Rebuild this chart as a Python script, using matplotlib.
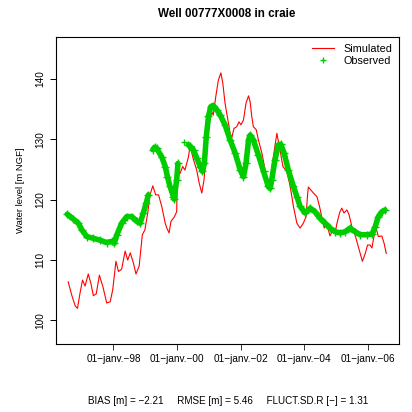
import matplotlib
matplotlib.use("Agg")
import matplotlib.pyplot as plt
from matplotlib.lines import Line2D
import numpy as np

plt.rcParams['font.family'] = ['Liberation Sans', 'DejaVu Sans']

# simulated water level (decimal year, m NGF)
sim_t = [1996.58, 1996.69, 1996.80, 1996.87, 1996.95, 1997.03, 1997.11, 1997.21, 1997.29,
         1997.37, 1997.46, 1997.56, 1997.67, 1997.79, 1997.90, 1997.98, 1998.08, 1998.16,
         1998.26, 1998.37, 1998.45, 1998.53, 1998.63, 1998.71, 1998.81, 1998.91, 1998.99,
         1999.08, 1999.15, 1999.24, 1999.33, 1999.42, 1999.52, 1999.63, 1999.68, 1999.75,
         1999.81, 1999.92, 1999.99, 2000.01, 2000.10, 2000.18, 2000.25, 2000.36, 2000.41,
         2000.52, 2000.62, 2000.70, 2000.78, 2000.85, 2000.94, 2001.02, 2001.09, 2001.14,
         2001.22, 2001.30, 2001.38, 2001.44, 2001.51, 2001.60, 2001.67, 2001.72, 2001.79,
         2001.88, 2001.95, 2002.01, 2002.09, 2002.17, 2002.25, 2002.30, 2002.35, 2002.40,
         2002.49, 2002.56, 2002.67, 2002.75, 2002.82, 2002.87, 2002.93, 2003.03, 2003.14,
         2003.24, 2003.33, 2003.45, 2003.56, 2003.66, 2003.77, 2003.87, 2003.97, 2004.06,
         2004.10, 2004.13, 2004.21, 2004.29, 2004.40, 2004.48, 2004.55, 2004.63, 2004.69,
         2004.76, 2004.81, 2004.90, 2004.97, 2005.03, 2005.11, 2005.18, 2005.25, 2005.34,
         2005.41, 2005.50, 2005.58, 2005.67, 2005.76, 2005.83, 2005.92, 2005.99, 2006.07,
         2006.13, 2006.18, 2006.26, 2006.33, 2006.44, 2006.51, 2006.58]
sim_h = [106.4, 104.2, 102.4, 102.0, 104.5, 106.7, 105.7, 107.7, 106.2,
         104.1, 104.4, 107.5, 105.6, 102.9, 103.1, 105.1, 109.8, 108.1,
         108.5, 111.5, 110.0, 111.2, 109.5, 107.7, 109.0, 114.2, 115.0,
         117.8, 120.8, 122.3, 120.8, 120.8, 118.9, 116.1, 115.3, 114.5,
         116.4, 117.2, 118.0, 123.8, 124.4, 125.5, 124.9, 127.1, 128.9,
         126.6, 124.9, 122.7, 121.1, 123.3, 129.4, 132.7, 134.6, 134.0,
         137.1, 139.8, 141.0, 139.3, 136.0, 133.2, 131.0, 130.2, 131.8,
         132.1, 132.9, 132.4, 133.2, 136.0, 137.2, 136.2, 133.8, 132.1,
         131.6, 129.9, 127.7, 125.5, 122.7, 121.9, 123.3, 127.1, 131.0,
         128.2, 125.5, 124.7, 122.2, 118.9, 116.1, 115.3, 116.1, 117.2,
         120.5, 122.1, 121.6, 121.1, 120.5, 118.9, 117.2, 115.3, 116.4,
         115.0, 114.0, 115.0, 114.5, 116.1, 117.8, 118.6, 117.8, 118.3,
         117.5, 115.5, 114.5, 112.8, 111.1, 109.8, 111.1, 112.5, 112.5,
         112.0, 113.6, 115.3, 113.9, 114.0, 112.8, 111.1]

# observed water level, NaN marks gaps in the record
obs_t = [1996.55, 1996.74, 1996.90, 1997.01, 1997.16, 1997.37, 1997.58, 1997.79, 1997.95,
         1998.03, 1998.11, 1998.26, 1998.42, 1998.58, 1998.74, 1998.84, 1998.94, 1999.03,
         1999.10, np.nan,
         1999.24, 1999.30, 1999.36, 1999.52, 1999.63, 1999.70, 1999.78, 1999.89, 1999.91,
         1999.99, 2000.03, np.nan,
         2000.36, 2000.41, 2000.52, 2000.62, 2000.73, 2000.80, 2000.86, 2000.92, 2000.99,
         2001.06, 2001.14, 2001.25, 2001.36, 2001.51, 2001.67, 2001.83, 2001.99, 2002.09,
         2002.17, 2002.25, 2002.30, 2002.40, 2002.56, 2002.72, 2002.87, 2002.93, 2002.98,
         2003.08, 2003.19, 2003.26, 2003.37, 2003.50, 2003.66, 2003.77, 2003.87, 2004.03,
         2004.19, 2004.34, 2004.50, 2004.66, 2004.81, 2004.97, 2005.13, 2005.29, 2005.44,
         2005.60, 2005.76, 2005.97, 2006.13, 2006.23, 2006.33, 2006.44, 2006.54]
obs_h = [117.6, 116.8, 116.1, 115.0, 113.9, 113.6, 113.3, 112.9, 113.1,
         112.8, 114.2, 116.1, 117.2, 117.2, 116.4, 116.1, 117.8, 119.4,
         120.8, np.nan,
         128.3, 128.7, 128.5, 127.1, 125.5, 123.8, 122.2, 120.5, 120.1,
         123.3, 126.0, np.nan,
         129.1, 128.9, 128.2, 126.9, 125.5, 124.7, 126.0, 130.4, 133.8,
         135.4, 135.6, 134.9, 134.0, 132.4, 129.9, 127.7, 124.9, 123.8,
         126.0, 129.9, 130.7, 129.9, 127.4, 124.7, 122.2, 121.9, 123.3,
         126.6, 129.1, 129.2, 127.7, 124.9, 122.2, 120.5, 118.9, 117.8,
         118.6, 118.0, 116.9, 116.1, 115.3, 114.7, 114.5, 114.7, 115.3,
         114.7, 114.2, 114.2, 114.3, 115.5, 117.2, 118.0, 118.3]
# isolated observation
out_t = [2000.22]
out_h = [129.6]

xticks = [1998, 2000, 2002, 2004, 2006]
xlabels = ['01\u2212janv.\u221298', '01\u2212janv.\u221200', '01\u2212janv.\u221202',
           '01\u2212janv.\u221204', '01\u2212janv.\u221206']
yticks = [100, 110, 120, 130, 140]

red = '#FF0000'
green = '#00CD00'

fig = plt.figure(figsize=(4.12, 4.12), dpi=100)
ax = fig.add_axes([55.5 / 412, 68 / 412, 343.5 / 412, 307 / 412])

ax.plot(sim_t, sim_h, color=red, lw=0.8)
ax.plot(obs_t, obs_h, color=green, lw=4.0, solid_capstyle='round')
ax.plot(obs_t, obs_h, '+', color=green, ms=5.5, mew=1)
ax.plot(out_t, out_h, '+', color=green, ms=5, mew=1)

ax.set_xlim(1996.18, 2006.98)
ax.set_ylim(96.1, 146.95)
ax.set_xticks(xticks)
ax.set_xticklabels(xlabels)
ax.set_yticks(yticks)
ax.set_yticklabels([str(v) for v in yticks], rotation=90, va='center')
ax.tick_params(direction='out', length=4.5, width=0.7, labelsize=7.2, pad=3)
ax.tick_params(axis='x', pad=2.5, colors='#333333', labelcolor='black')
for s in ax.spines.values():
    s.set_linewidth(0.8)

ax.set_ylabel('Water level [m NGF]', fontsize=6.8, labelpad=7)
fig.text(227 / 412, 1 - 14 / 412, 'Well 00777X0008 in craie', ha='center', va='center',
         fontsize=8.4, fontweight='bold')
fig.text(228 / 412, 1 - 401 / 412,
         'BIAS [m] = \u22122.21     RMSE [m] = 5.46     FLUCT.SD.R [\u2212] = 1.31',
         ha='center', va='center', fontsize=7.1)

handles = [Line2D([], [], color=red, lw=0.8),
           Line2D([], [], color=green, ls='none', marker='+', ms=5, mew=1)]
ax.legend(handles, ['Simulated', 'Observed'], loc='upper right', frameon=False,
          fontsize=7.8, handlelength=2.0, handletextpad=0.9, borderaxespad=0.2,
          labelspacing=0.25)

fig.savefig('out.png', dpi=100)
